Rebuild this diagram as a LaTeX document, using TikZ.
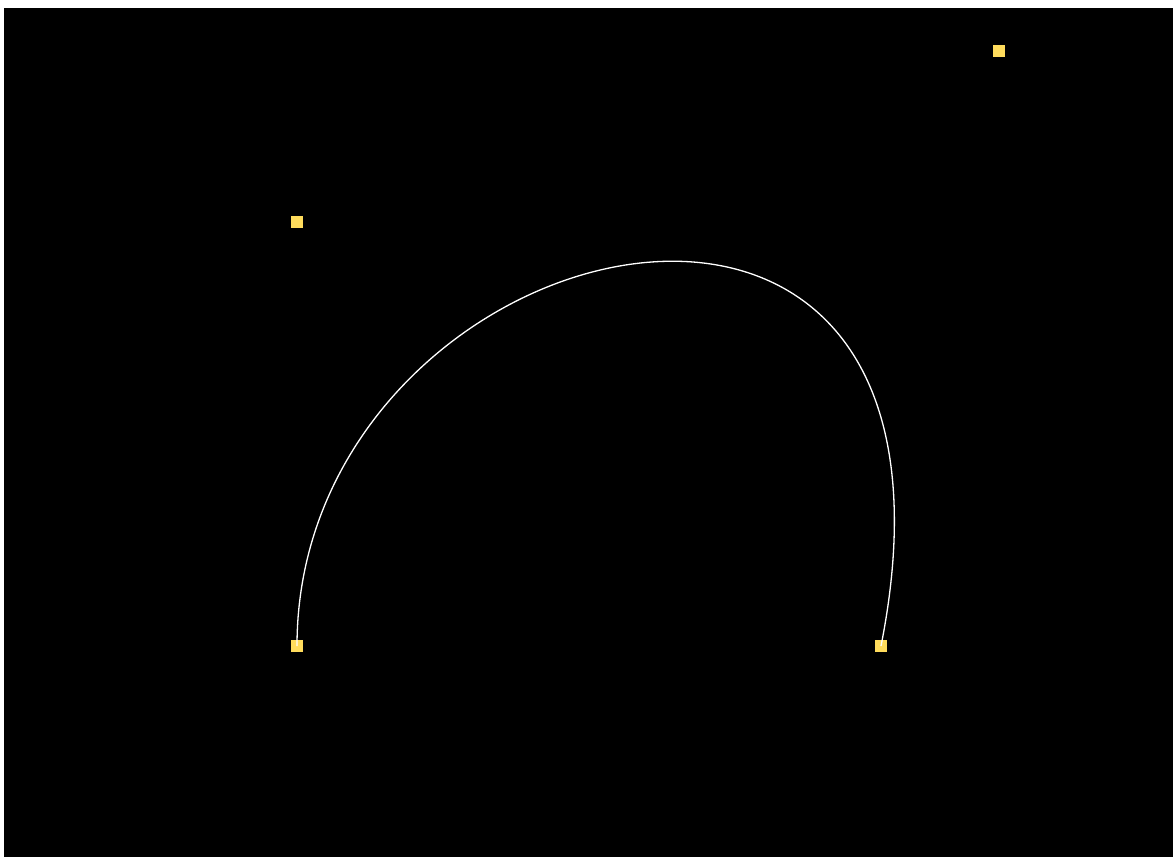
\documentclass[tikz,border=0pt]{standalone}
\definecolor{handle}{HTML}{FFDC5C}
\tikzset{ctrl/.style={fill=handle, draw=none, minimum size=12pt, inner sep=0pt, rectangle}}
\begin{document}
\begin{tikzpicture}[x=1pt,y=-1pt]
\useasboundingbox (0,0) rectangle (1173,857);
\fill[white] (0,0) rectangle (1173,857);
\fill[black] (3.5,8) rectangle (1173,857);
\node[ctrl] (p0) at (297,646) {};
\node[ctrl] (p1) at (297,222) {};
\node[ctrl] (p2) at (999,51) {};
\node[ctrl] (p3) at (881,646) {};
\draw[white, line width=1.3pt] (p0.center) .. controls (p1.center) and (p2.center) .. (p3.center);
\end{tikzpicture}
\end{document}
